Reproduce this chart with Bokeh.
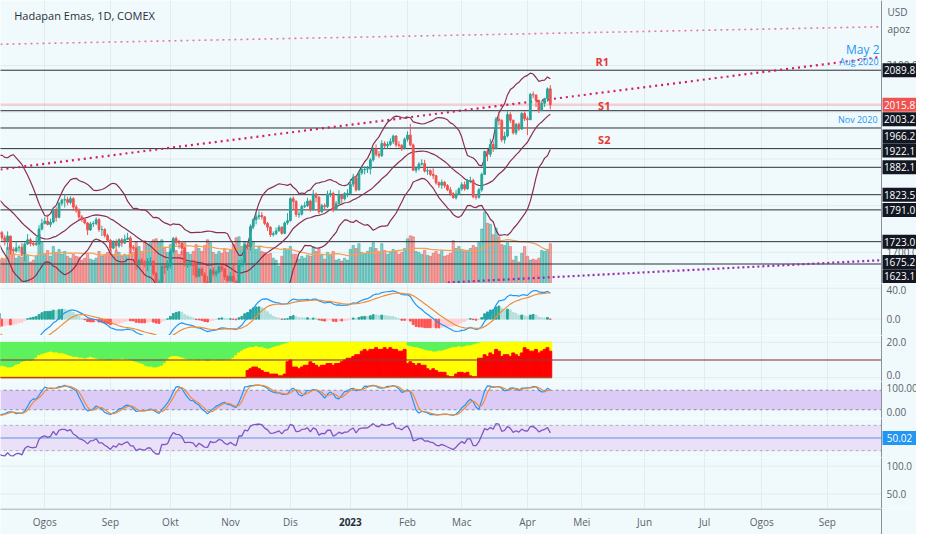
import numpy as np
import pandas as pd
from bokeh.plotting import figure
from bokeh.layouts import column
from bokeh.models import Range1d, FixedTicker, Grid, BoxAnnotation, ColumnDataSource
from bokeh.core.properties import value
from bokeh.embed import file_html
from bokeh.resources import INLINE

# ---------------- DATA (COMEX gold futures, daily bars; index 0 = 8 Jul 2022) -------------
warmup_close = [1986, 1949, 1955, 1948, 1934, 1896, 1904, 1888, 1892, 1911, 1863, 1868, 1869, 1876,
                1883, 1858, 1841, 1853, 1824, 1809, 1814, 1818, 1815, 1841, 1842, 1853, 1865, 1846,
                1850, 1851, 1837, 1848, 1868, 1850, 1841, 1852, 1853, 1852, 1871, 1831, 1813, 1818,
                1849, 1840, 1838, 1838, 1830, 1830, 1824, 1821, 1818, 1807, 1801, 1764, 1736, 1740]

close = [
    1742, 1731, 1725, 1735, 1706, 1703, 1710, 1711, 1697, 1718, 1727, 1719, 1717, 1719, 1750, 1762,
    1767, 1760, 1765, 1791, 1775, 1805, 1812, 1813, 1807, 1815, 1797, 1789, 1776, 1771, 1763, 1748, 1761, 1762, 1770, 1749, 1749, 1736, 1726,
    1709, 1722, 1714, 1727, 1720, 1728, 1731, 1711, 1709, 1677, 1683, 1678, 1674, 1681, 1681, 1655, 1636, 1636, 1670, 1668, 1672,
    1702, 1730, 1721, 1720, 1709, 1676, 1677, 1677, 1672, 1649, 1664, 1652, 1637, 1636, 1662, 1654, 1658, 1669, 1664, 1648, 1640,
    1649, 1638, 1630, 1676, 1676, 1716, 1712, 1755, 1770, 1776, 1779, 1776, 1762, 1754, 1738, 1740, 1746, 1754, 1741, 1763, 1768,
    1815, 1809, 1781, 1782, 1798, 1800, 1810, 1792, 1825, 1818, 1787, 1800, 1798, 1825, 1826, 1792, 1804, 1823, 1815, 1826, 1826,
    1846, 1859, 1834, 1870, 1877, 1878, 1879, 1898, 1921, 1910, 1907, 1933, 1928, 1931, 1937, 1949, 1930, 1929, 1923, 1942,
    1951, 1930, 1876, 1880, 1889, 1890, 1874, 1875, 1867, 1864, 1849, 1844, 1850, 1843, 1834, 1826, 1817, 1825, 1836,
    1845, 1836, 1854, 1854, 1819, 1818, 1834, 1867, 1916, 1910, 1931, 1923, 1985, 1982, 1941, 1949, 1995, 1983, 1956, 1974, 1964, 1997, 1986,
    1984, 2038, 2037, 2025, 2004, 2019, 2029, 2050, 2015.8,
]
high = [
    1752, 1746, 1737, 1745, 1736, 1711, 1724, 1715, 1720, 1722, 1739, 1731, 1725, 1733, 1758, 1772,
    1775, 1781, 1772, 1796, 1797, 1808, 1815, 1824, 1819, 1820, 1818, 1802, 1794, 1780, 1773, 1765, 1765, 1767, 1775, 1774, 1757, 1752, 1740,
    1729, 1726, 1728, 1730, 1731, 1738, 1742, 1735, 1716, 1711, 1686, 1688, 1684, 1688, 1690, 1683, 1658, 1642, 1674, 1673, 1683,
    1708, 1733, 1734, 1727, 1724, 1712, 1681, 1683, 1684, 1682, 1667, 1668, 1658, 1649, 1666, 1669, 1663, 1675, 1673, 1667, 1652,
    1658, 1673, 1642, 1684, 1685, 1719, 1722, 1760, 1773, 1786, 1788, 1786, 1778, 1765, 1756, 1745, 1753, 1759, 1756, 1766, 1784,
    1818, 1820, 1812, 1788, 1802, 1808, 1817, 1813, 1834, 1828, 1820, 1804, 1805, 1832, 1834, 1830, 1810, 1833, 1826, 1829, 1835,
    1857, 1868, 1865, 1874, 1886, 1884, 1885, 1902, 1925, 1931, 1917, 1940, 1938, 1937, 1944, 1952, 1951, 1938, 1932, 1946,
    1959, 1975, 1933, 1884, 1893, 1899, 1898, 1880, 1878, 1880, 1866, 1852, 1856, 1853, 1846, 1840, 1829, 1833, 1839,
    1850, 1852, 1857, 1862, 1858, 1824, 1838, 1871, 1918, 1921, 1943, 1938, 1990, 1997, 1985, 1958, 2002, 2000, 1984, 1977, 1978, 2000, 2002,
    1991, 2041, 2044, 2037, 2027, 2025, 2031, 2053, 2058,
]
low = [
    1733, 1725, 1715, 1705, 1696, 1697, 1700, 1701, 1692, 1681, 1716, 1713, 1713, 1714, 1716, 1747,
    1760, 1758, 1754, 1762, 1766, 1773, 1800, 1796, 1801, 1803, 1789, 1785, 1769, 1765, 1760, 1737, 1746, 1754, 1758, 1744, 1735, 1732, 1722,
    1701, 1707, 1703, 1710, 1712, 1718, 1726, 1698, 1703, 1663, 1670, 1673, 1668, 1660, 1671, 1650, 1626, 1622, 1627, 1654, 1661,
    1665, 1698, 1715, 1708, 1694, 1670, 1667, 1670, 1651, 1645, 1647, 1650, 1633, 1625, 1630, 1649, 1648, 1655, 1658, 1641, 1636,
    1637, 1636, 1620, 1627, 1670, 1673, 1706, 1704, 1750, 1760, 1770, 1770, 1758, 1746, 1733, 1734, 1737, 1745, 1738, 1739, 1759,
    1766, 1792, 1776, 1774, 1779, 1795, 1797, 1787, 1789, 1807, 1782, 1784, 1790, 1795, 1818, 1786, 1790, 1803, 1805, 1811, 1818,
    1823, 1840, 1830, 1832, 1866, 1867, 1870, 1867, 1894, 1905, 1902, 1904, 1922, 1922, 1927, 1932, 1925, 1924, 1917, 1920,
    1937, 1927, 1874, 1870, 1875, 1886, 1871, 1866, 1863, 1857, 1845, 1838, 1836, 1838, 1831, 1821, 1815, 1813, 1823,
    1832, 1832, 1834, 1848, 1816, 1813, 1815, 1830, 1866, 1895, 1904, 1915, 1920, 1972, 1936, 1933, 1946, 1977, 1952, 1951, 1960, 1962, 1981,
    1951, 1983, 2030, 2011, 1998, 2002, 2011, 2022, 2006,
]
volume = [  # thousand contracts
    120, 130, 125, 185, 200, 150, 130, 140, 135, 160, 145, 110, 120, 140, 250, 210,
    150, 170, 140, 190, 160, 175, 150, 165, 140, 130, 150, 140, 135, 120, 130, 155, 125, 120, 130, 165, 140, 150, 160,
    175, 150, 170, 160, 140, 150, 145, 200, 160, 215, 190, 165, 220, 200, 210, 225, 230, 215, 225, 180, 160,
    200, 225, 170, 150, 165, 210, 160, 150, 165, 200, 180, 165, 195, 225, 210, 160, 150, 165, 155, 175, 160,
    170, 200, 235, 240, 190, 215, 180, 230, 215, 175, 190, 165, 160, 150, 155, 130, 120, 90, 140, 180, 175,
    190, 150, 150, 125, 140, 130, 145, 140, 190, 165, 180, 145, 125, 160, 150, 165, 120, 125, 115, 130, 120,
    175, 195, 180, 205, 160, 150, 165, 185, 210, 180, 165, 205, 170, 150, 160, 175, 165, 150, 160, 180,
    230, 245, 240, 165, 160, 150, 170, 145, 140, 155, 165, 150, 170, 140, 145, 155, 220, 180, 190,
    175, 165, 170, 180, 195, 185, 210, 280, 365, 310, 305, 250, 285, 240, 200, 195, 210, 190, 120, 140, 110, 155, 190,
    140, 120, 125, 120, 130, 170, 165, 175, 205,
]
# colour-band indicator (scale 0..20): red part starts at bar 87, yellow top, green above
red_start = 87
red_band = [
    4, 5, 6, 6, 5, 4, 3, 3, 2, 2,
    2, 1, 1, 2, 9, 10, 6, 6, 5, 6,
    7, 7, 9, 8, 7, 6, 7, 7, 8, 8,
    7, 8, 8, 9, 10, 11, 11, 12, 13, 13,
    15, 16, 15, 16, 16, 17, 16, 16, 17, 16,
    17, 16, 16, 15, 15, 16, 8, 9, 8, 7,
    8, 7, 7, 5, 4, 5, 4, 3, 3, 3,
    1, 0.5, 0.5, 2, 3, 3, 2.5, 3, 1, 0.5,
    0.5, 11, 11, 13, 12, 14, 13, 16, 15, 12,
    13, 13, 12, 14, 13, 12, 14, 17, 16, 15,
    15, 16, 14, 15, 16, 17, 15,
]
yellow_top = [
    6, 6.5, 6, 5.5, 5.5, 6, 7, 7.5,
    8.5, 9, 9.5, 9, 9.5, 11,
    12.5, 13, 13.5, 14, 14.5, 14, 14, 13.5, 13.5, 13,
    12.5, 12, 11.5, 11.5, 11, 11, 10.5, 11, 11.5, 11, 10.5, 10,
    10, 10, 9.5, 9.5, 10, 10, 10, 10.5, 10, 10, 9.5, 9, 8.5, 8,
    7.5, 6.5, 6, 6, 5.5, 5.5, 6, 6.5, 8,
    10, 11.5, 12, 12, 11.5, 11, 10.5,
    10, 9.5, 10, 9.5, 9.5, 10, 9.5, 9, 9.5, 10, 9.5, 9.5, 9.5, 9.5, 10, 10, 11, 12.5,
    14, 15, 16, 16.5, 17,
    17, 17.5, 17, 17, 16.5, 16, 16.5, 17, 17.5, 18, 18.5, 19, 19.5,
    20, 20, 20, 20, 20, 20, 20, 20, 20, 20, 20, 20, 20, 20, 20, 20, 20, 20, 20, 20,
    20, 20, 20, 20, 20, 20, 20, 20, 20, 20, 20, 20, 20, 20, 20, 20, 20, 20, 20, 20, 20,
    18, 17.5, 17, 17, 16.5, 16, 15.5, 15,
    15, 14.5, 14.5, 15, 15, 15.5, 16,
    16.5, 17, 17, 17.5, 17, 17.5, 18, 18, 18.5, 19, 19.5,
    20, 20, 20, 20, 20, 20, 20, 20, 20, 20, 20, 20, 20, 20, 20, 20, 20, 20, 20, 20, 20, 20, 20, 20, 20,
]
band_total = 20
band_mid = 10

month_ticks = [16, 39, 60, 81, 102, 123, 143, 162, 185, 204, 226, 247, 267, 290]
month_labels = ["Ogos", "Sep", "Okt", "Nov", "Dis", "2023", "Feb", "Mac", "Apr", "Mei", "Jun", "Jul", "Ogos", "Sep"]

levels = [2089.8, 2003.2, 1966.2, 1922.1, 1882.1, 1823.5, 1791.0, 1723.0, 1675.2]
level_start = [0, 0, 0, 0, 0, 10.5, 0, 0, 0]
last_price = 2015.8
extra_level = 1623.1
rsi_value = 50.02

price_grid = [1700, 1800, 1900, 2000, 2100]
price_ticks = [2100, 1700]
macd_ticks = [40, 0]
band_ticks = [20, 0]
stoch_ticks = [100, 0]
empty_ticks = [100, 50]

trend_top_x, trend_top_y = [0.5, 309.0], [2145.4, 2182.8]
trend_mid_x, trend_mid_y = [0.5, 309.0], [1877.4, 2118.3]
trend_low_x, trend_low_y = [157.1, 309.0], [1635.6, 1683.4]

pivot_names = ["R1", "S1", "S2"]
pivot_x = [211.2, 211.9, 211.9]
pivot_y = [2107.9, 2014.3, 1941.5]

assert len(close) == len(high) == len(low) == len(volume) == len(yellow_top) == 194
assert red_start + len(red_band) == 194

# ---------------- indicators ----------------
nw = len(warmup_close)
s = pd.Series(warmup_close + close, dtype=float)
hh = pd.Series(warmup_close + high, dtype=float)
ll = pd.Series(warmup_close + low, dtype=float)
ix_all = np.arange(len(s)) - nw
ema12 = s.ewm(span=12, adjust=False).mean()
ema26 = s.ewm(span=26, adjust=False).mean()
macd = ema12 - ema26
sig = macd.ewm(span=9, adjust=False).mean()
hist = macd - sig
mid = s.rolling(20).mean()
sd = s.rolling(20).std(ddof=0)
bb_up = mid + 2.5 * sd
bb_lo = mid - 2.5 * sd
d = s.diff()
g = d.clip(lower=0).ewm(alpha=1 / 14, adjust=False).mean()
l_ = (-d.clip(upper=0)).ewm(alpha=1 / 14, adjust=False).mean()
rsi = 100 - 100 / (1 + g / l_)
lo14 = ll.rolling(14).min()
hi14 = hh.rolling(14).max()
stoch = (s - lo14) / (hi14 - lo14) * 100
k_line = stoch.rolling(3).mean()
d_line = k_line.rolling(3).mean()

n = len(close)
idx = np.arange(n)
opn = [warmup_close[-1]] + close[:-1]
UP, DN = "#26A69A", "#EF5350"
ccol = [UP if c >= o else DN for o, c in zip(opn, close)]
vol_ma = pd.Series(volume, dtype=float).rolling(20, min_periods=1).mean()

hv = hist.values
hcol = []
for i in range(len(hv)):
    prev = hv[i - 1] if i > 0 else hv[i]
    if hv[i] >= 0:
        hcol.append("#26A69A" if hv[i] >= prev else "#B2DFDB")
    else:
        hcol.append("#FF5252" if hv[i] <= prev else "#FFCDD2")

# ---------------- layout ----------------
BG = "#F0FAFC"
GRID = "#E1ECF0"
AXC = "#8C9099"
TXT = "#5D606B"
FONT = "Open Sans"
W_ALL = 916          # whole canvas
FW = 881             # chart area left of the price scale
X0, X1 = 0.51, 308.95
PX = FW / (X1 - X0)  # pixels per bar
X_END = X0 + W_ALL / PX
xr = Range1d(X0, X_END)


def pane(h, y0, y1, grid_ticks, fmt, label_ticks=None):
    p = figure(width=W_ALL, height=h, x_range=xr, y_range=Range1d(y0, y1),
               output_backend="svg", toolbar_location=None,
               x_axis_location=None, y_axis_location=None, min_border=0)
    p.background_fill_color = BG
    p.border_fill_color = BG
    p.outline_line_color = None
    p.xgrid.grid_line_color = None
    p.ygrid.grid_line_color = None
    p.add_layout(Grid(dimension=0, ticker=FixedTicker(ticks=month_ticks), grid_line_color=GRID))
    if grid_ticks:
        p.segment(x0=[X0 - 1] * len(grid_ticks), y0=grid_ticks, x1=[X1] * len(grid_ticks), y1=grid_ticks,
                  line_color=GRID, line_width=1)
    p._h, p._y0, p._y1, p._fmt = h, y0, y1, fmt
    p._ticks = grid_ticks if label_ticks is None else label_ticks
    return p


def finish_axis(p):
    h, y0, y1, ticks, fmt = p._h, p._y0, p._y1, p._ticks, p._fmt
    upp = (y1 - y0) / h
    # price-scale background drawn over anything running past the chart area
    p.quad(left=[X1], right=[X_END + 1], bottom=[y0 - 10 * upp], top=[y1 + 10 * upp],
           fill_color=BG, line_color=None)
    p.segment(x0=[X1], y0=[y0], x1=[X1], y1=[y1], line_color=AXC, line_width=1)
    if ticks:
        ys = [min(max(t, y0 + 6.5 * upp), y1 - 6.5 * upp) for t in ticks]
        p.text(x=[X1 + 5 / PX] * len(ticks), y=ys, text=[fmt % t for t in ticks],
               text_font=value(FONT), text_font_size="10px", text_color=TXT,
               text_align="left", text_baseline="middle")


def box(p, val, text, bg, shift_px=0.0):
    upp = (p._y1 - p._y0) / p._h
    yy = val - shift_px * upp
    yy = min(max(yy, p._y0 + 7.2 * upp), p._y1 - 7.2 * upp)
    cx = X1 + 18 / PX
    p.rect(x=[cx], y=[yy], width=34, height=14, width_units="screen", height_units="screen",
           fill_color=bg, line_color=None)
    p.text(x=[cx], y=[yy], text=[text], text_align="center", text_baseline="middle",
           text_color="white", text_font_size="10px", text_font=value(FONT))


def px_x(x):
    return (x + 1.48) / 2.905


def px_p(y):
    return 2089.8 - (y - 71.7) * 2.0807


# ---------------- price pane ----------------
P_TOP, P_BOT = px_p(0), px_p(291)
pp = pane(283, P_BOT, P_TOP, price_grid, "%.1f", price_ticks)
pp.extra_y_ranges = {"vol": Range1d(0, 1455)}

vsrc = ColumnDataSource(dict(x=idx, v=volume, c=ccol))
pp.vbar(x="x", top="v", bottom=0, width=0.8, color="c", alpha=0.5, y_range_name="vol", source=vsrc)
pp.line(idx, vol_ma.values, color="#F5A15A", line_width=1.3, y_range_name="vol")

for lv, st in zip(levels, level_start):
    pp.segment(x0=[st], y0=[lv], x1=[X1], y1=[lv], line_color="#2A2E39", line_width=1)
pp.segment(x0=[X0 - 1], y0=[last_price], x1=[X1], y1=[last_price], line_color="#EF5350",
           line_alpha=0.25, line_width=2.5)

pp.line(trend_top_x, trend_top_y, line_color="#E8799A", line_width=1.6, line_dash="2 4")
pp.line(trend_mid_x, trend_mid_y, line_color="#D81B60", line_width=2.2, line_dash="2 4")
pp.line(trend_low_x, trend_low_y, line_color="#9C27B0", line_width=2.2, line_dash="2 3")

BBC = "#8A2E4E"
vis = ix_all <= n - 1
for ser in (bb_up, mid, bb_lo):
    pp.line(ix_all[vis], ser.values[vis], color=BBC, line_width=1.2)

csrc = ColumnDataSource(dict(x=idx, h=high, l=low, col=ccol,
                             top=np.maximum(opn, close), bot=np.minimum(opn, close)))
pp.segment(x0="x", y0="h", x1="x", y1="l", color="col", line_width=1, source=csrc)
pp.vbar(x="x", top="top", bottom="bot", width=0.62, fill_color="col", line_color="col", source=csrc)

pp.text(x=pivot_x, y=pivot_y, text=pivot_names, text_color="#E53935", text_font_size="11px",
        text_font=value(FONT), text_font_style="bold", text_align="center", text_baseline="middle")
pp.text(x=[px_x(894)], y=[px_p(50)], text=["May 2"], text_color="#2196F3", text_font_size="12px",
        text_font=value(FONT), text_align="right", text_baseline="middle")
pp.text(x=[px_x(893), px_x(892)], y=[px_p(63), px_p(122)], text=["Aug 2020", "Nov 2020"],
        text_color="#2196F3", text_font_size="9px", text_font=value(FONT),
        text_align="right", text_baseline="middle")
pp.text(x=[px_x(14)], y=[px_p(15)], text=["Hadapan Emas, 1D, COMEX"], text_font=value(FONT),
        text_font_size="11px", text_color="#2A2E39", text_baseline="middle", text_align="left")
finish_axis(pp)
pp.text(x=[X1 + 6 / PX] * 2, y=[px_p(12), px_p(29)], text=["USD", "apoz"], text_font=value(FONT),
        text_font_size="10px", text_color=TXT, text_baseline="middle", text_align="left")

box(pp, levels[0], f"{levels[0]:.1f}", "#131722")
box(pp, last_price, f"{last_price:.1f}", "#EF5350")
shifts = [0, 8.5, 8.5, 2, 0, 0, 0, 0, -2]
for lv, sh in zip(levels[1:], shifts[1:]):
    box(pp, lv, f"{lv:.1f}", "#131722", sh)
box(pp, extra_level, f"{extra_level:.1f}", "#131722", -10)

# ---------------- MACD pane ----------------
pm = pane(52, -21.25, 46.25, macd_ticks, "%.1f")
pm.vbar(x=ix_all, top=hv, bottom=0, width=0.65, color=hcol)
pm.line(ix_all, macd.values, color="#2196F3", line_width=1.2)
pm.line(ix_all, sig.values, color="#F28C38", line_width=1.2)
finish_axis(pm)

# ---------------- colour band pane ----------------
pc = pane(46, -2.2, 23.9, band_ticks, "%.1f")
red_full = [0.0] * red_start + list(red_band)
pc.vbar(x=idx, top=band_total, bottom=yellow_top, width=1.0, color="#5CF25C")
pc.vbar(x=idx, top=yellow_top, bottom=red_full, width=1.0, color="#FFFF00")
pc.vbar(x=idx, top=red_full, bottom=0, width=1.0, color="#FF0000")
pc.segment(x0=[X0 - 1], y0=[band_mid], x1=[X1], y1=[band_mid], line_color="#8E3A48", line_alpha=0.75, line_width=1.5)
pc.segment(x0=[X0 - 1], y0=[0], x1=[n - 0.5], y1=[0], line_color="#A0522D", line_alpha=0.8, line_width=1.5)
finish_axis(pc)

# ---------------- Stochastic pane ----------------
ps = pane(37, -7, 107, [], "%.2f", stoch_ticks)
ps.add_layout(BoxAnnotation(bottom=20, top=80, right=X1, fill_color="#DCCBF6", fill_alpha=1,
                            line_color=None, level="underlay"))
ps.segment(x0=[X0 - 1] * 2, y0=[80, 20], x1=[X1] * 2, y1=[80, 20], line_color="#8C8F9A",
           line_dash="3 3", line_width=1)
ps.line(ix_all, k_line.values, color="#2196F3", line_width=1.2)
ps.line(ix_all, d_line.values, color="#F28C38", line_width=1.2)
finish_axis(ps)

# ---------------- RSI pane ----------------
pr = pane(39, 19.2, 80.8, [], "%.1f")
pr.add_layout(BoxAnnotation(bottom=30, top=70, right=X1, fill_color="#EAE1F8", fill_alpha=1,
                            line_color=None, level="underlay"))
pr.segment(x0=[X0 - 1] * 2, y0=[70, 30], x1=[X1] * 2, y1=[70, 30], line_color="#A9ABB5",
           line_dash="3 3", line_width=1)
pr.segment(x0=[X0 - 1], y0=[50], x1=[X1], y1=[50], line_color="#5A8FE6", line_width=1)
pr.line(ix_all, rsi.values, color="#7E57C2", line_width=1.3)
finish_axis(pr)
box(pr, 50, f"{rsi_value:.2f}", "#2196F3")

# ---------------- empty pane ----------------
pe = pane(51, 24.1, 115.5, empty_ticks, "%.1f")
finish_axis(pe)

# ---------------- time scale ----------------
pb = figure(width=W_ALL, height=26, x_range=xr, y_range=Range1d(0, 26), output_backend="svg",
            toolbar_location=None, x_axis_location=None, y_axis_location=None, min_border=0)
pb.background_fill_color = BG
pb.border_fill_color = BG
pb.outline_line_color = None
pb.xgrid.grid_line_color = None
pb.ygrid.grid_line_color = None
pb.segment(x0=[X0 - 1], y0=[25.5], x1=[X1], y1=[25.5], line_color=AXC, line_width=1)
pb.segment(x0=[X1], y0=[0], x1=[X1], y1=[26], line_color=AXC, line_width=1)
norm = [(t, lab) for t, lab in zip(month_ticks, month_labels) if lab != "2023"]
pb.text(x=[t for t, _ in norm], y=[12.5] * len(norm), text=[lab for _, lab in norm],
        text_font=value(FONT), text_font_size="10px", text_color=TXT,
        text_align="center", text_baseline="middle")
yr = [(t, lab) for t, lab in zip(month_ticks, month_labels) if lab == "2023"]
pb.text(x=[t for t, _ in yr], y=[12.5] * len(yr), text=[lab for _, lab in yr],
        text_font=value(FONT), text_font_size="10px", text_font_style="bold", text_color="#2A2E39",
        text_align="center", text_baseline="middle")

page = column(pp, pm, pc, ps, pr, pe, pb, spacing=0)
with open("out.html", "w") as f:
    f.write(file_html(page, INLINE))
